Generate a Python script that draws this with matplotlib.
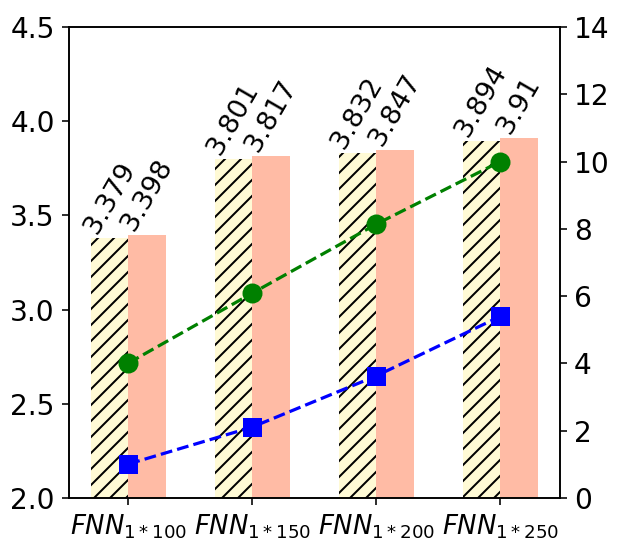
import numpy as np
import matplotlib
matplotlib.use('Agg')
import matplotlib.pyplot as plt

# 데이터
models = ['$FNN_{1*100}$', '$FNN_{1*150}$', '$FNN_{1*200}$', '$FNN_{1*250}$']
bar_a = [3.379, 3.801, 3.832, 3.894]
bar_b = [3.398, 3.817, 3.847, 3.91]
line_green = [4.01, 6.09, 8.14, 10.0]
line_blue = [1.01, 2.11, 3.63, 5.40]

fig = plt.figure(figsize=(620 / 144, 550 / 144), dpi=144)
ax = fig.add_axes([0.111, 0.0945, 0.792, 0.8565])

x = np.arange(len(models))
width = 0.3
ax.bar(x - width / 2, bar_a, width, color='#fffad5', edgecolor='black', linewidth=0, hatch='///')
ax.bar(x + width / 2, bar_b, width, color='#ffbba5')

for i in range(len(models)):
    ax.text(x[i] - width / 2, bar_a[i], str(bar_a[i]), rotation=60, ha='center', va='bottom', fontsize=13.5)
    ax.text(x[i] + width / 2, bar_b[i], str(bar_b[i]), rotation=60, ha='center', va='bottom', fontsize=13.5)

ax.set_ylim(2.0, 4.5)
ax.set_yticks([2.0, 2.5, 3.0, 3.5, 4.0, 4.5])
ax.set_xticks(x)
ax.set_xticklabels(models)
ax.tick_params(axis='y', labelsize=14)
ax.tick_params(axis='x', labelsize=13)

ax2 = ax.twinx()
ax2.plot(x, line_green, '--', color='green', marker='o', markersize=9, linewidth=1.6)
ax2.plot(x, line_blue, '--', color='blue', marker='s', markersize=8.5, linewidth=1.6)
ax2.set_ylim(0, 14)
ax2.set_yticks(range(0, 15, 2))
ax2.tick_params(labelsize=14)

plt.savefig('out.png', dpi=144)
